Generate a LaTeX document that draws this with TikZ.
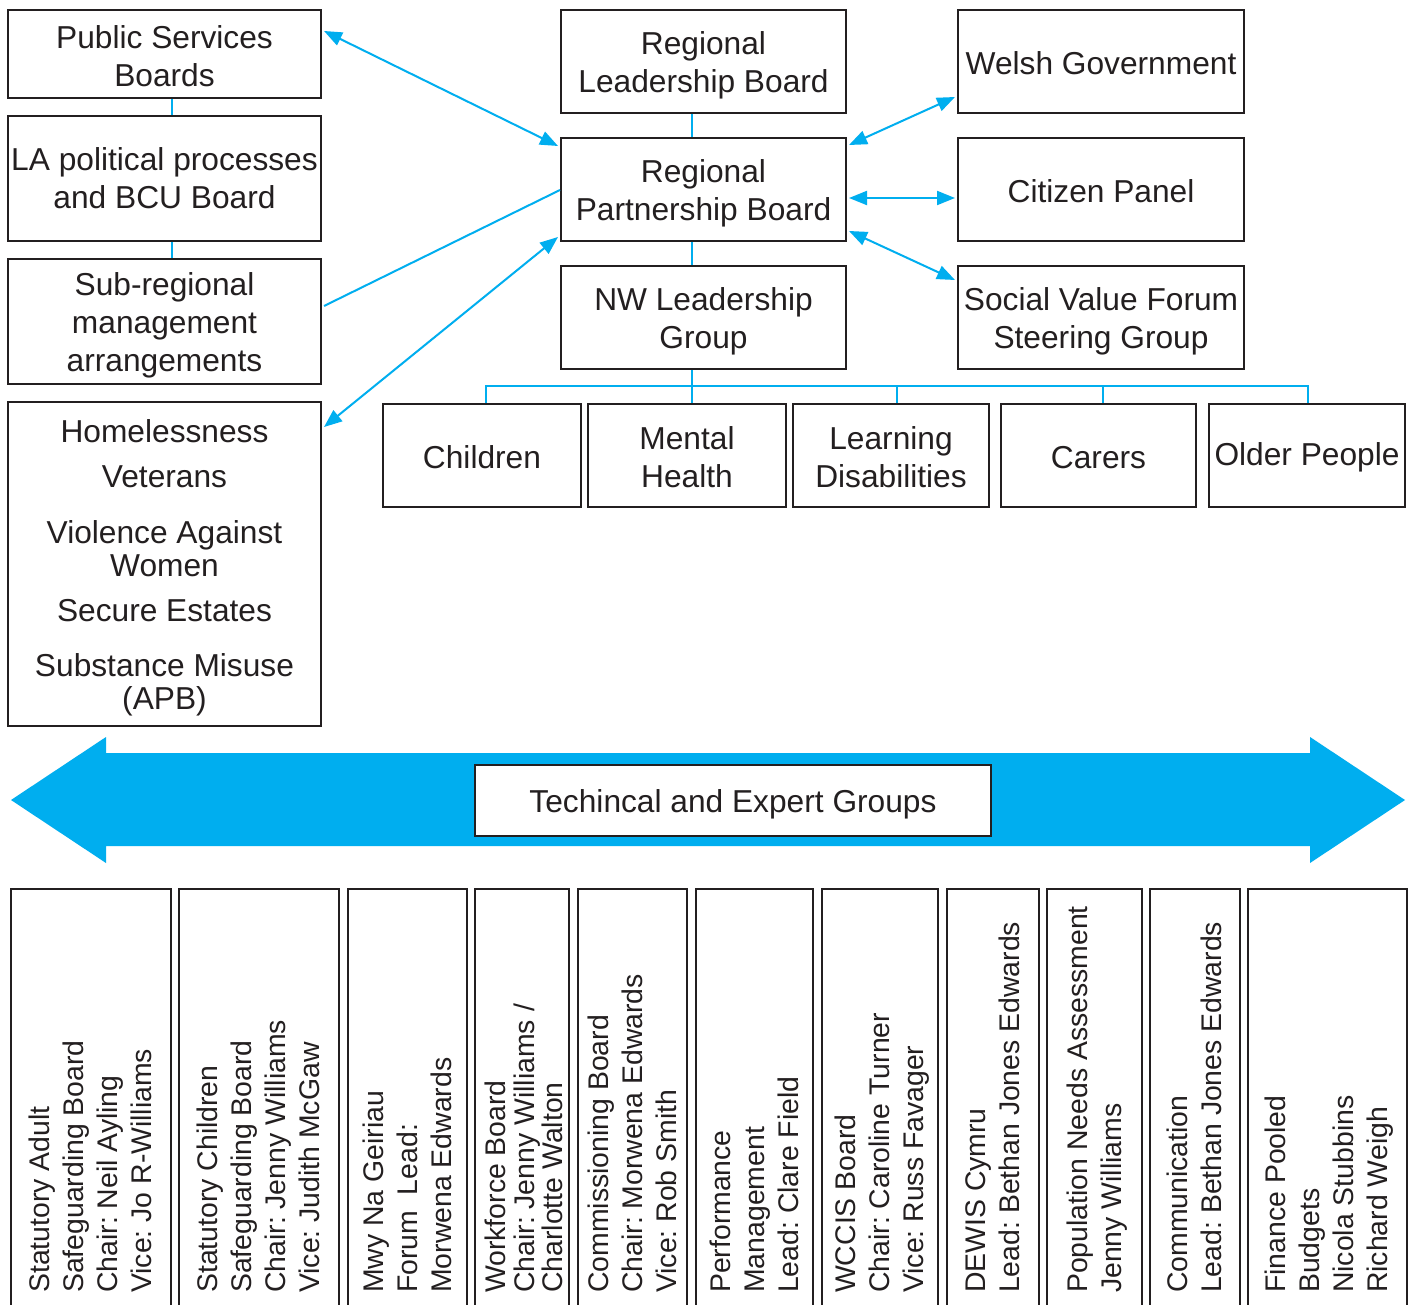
\documentclass[tikz,border=0pt]{standalone}
\usepackage{fontspec}
\setmainfont{Liberation Sans}
\usetikzlibrary{arrows.meta,calc}
\definecolor{ink}{HTML}{231F20}
\definecolor{cyanb}{HTML}{00AEEF}
\frenchspacing
\newcommand\firstup{\rule{0pt}{31pt}}
\newcommand\firstlow{\rule{0pt}{27pt}}
\begin{document}
\begin{tikzpicture}[x=1pt,y=-1pt,
 box/.style={draw=ink, line width=2pt, inner sep=0pt, align=center, text=ink, fill=white, font=\fontsize{31.7}{38}\selectfont\frenchspacing},
 oneline/.style={execute at begin node={\rule{0pt}{27pt}}},
 vbox/.style={draw=ink, line width=2pt, inner sep=0pt, minimum height=441pt},
 vtext/.style={rotate=90, anchor=north west, align=left, inner sep=0pt, text=ink, font=\fontsize{28.4}{34}\selectfont\frenchspacing},
 conn/.style={draw=cyanb, line width=2pt},
 biarr/.style={conn, {Triangle[length=18pt,width=14pt]}-{Triangle[length=18pt,width=14pt]}}
]
\useasboundingbox (0,0) rectangle (1412,1305);
\fill[white] (0,0) rectangle (1412,1305);
\clip (0,0) rectangle (1412,1305);

% left column
\node[box, minimum width=313pt, minimum height=88pt] (psb) at (164.5,54) {\firstlow Public Services\\Boards};
\node[box, minimum width=313pt, minimum height=125pt] (la) at (164.5,178.5) {LA political processes\\and BCU Board};
\node[box, minimum width=313pt, minimum height=125pt] (sub) at (164.5,321.5) {\firstup Sub-regional\\management\\arrangements};
\node[box, minimum width=313pt, minimum height=324pt, font=\fontsize{31.7}{33}\selectfont] (hl) at (164.5,564) {\firstup Homelessness\\[12pt]Veterans\\[23pt]Violence Against\\Women\\[12pt]Secure Estates\\[22pt]Substance Misuse\\(APB)};

% centre column
\node[box, minimum width=285pt, minimum height=103pt] (rlb) at (703.5,61.5) {\firstup Regional\\Leadership Board};
\node[box, minimum width=285pt, minimum height=103pt] (rpb) at (703.5,189.5) {\firstup Regional\\Partnership Board};
\node[box, minimum width=285pt, minimum height=103pt] (nw) at (703.5,317.5) {\firstup NW Leadership\\Group};

% right column
\node[box, oneline, minimum width=286pt, minimum height=103pt] (wg) at (1101,61.5) {Welsh Government};
\node[box, oneline, minimum width=286pt, minimum height=103pt] (cp) at (1101,189.5) {Citizen Panel};
\node[box, minimum width=286pt, minimum height=103pt] (svf) at (1101,317.5) {\firstup Social Value Forum\\Steering Group};

% workstream row
\node[box, oneline, minimum width=198pt, minimum height=103pt] (children) at (482,455.5) {Children};
\node[box, minimum width=198pt, minimum height=103pt] (mh) at (687,455.5) {\firstlow Mental\\Health};
\node[box, minimum width=196pt, minimum height=103pt] (ld) at (891,455.5) {\firstlow Learning\\Disabilities};
\node[box, oneline, minimum width=195pt, minimum height=103pt] (carers) at (1098.5,455.5) {Carers};
\node[box, oneline, minimum width=196pt, minimum height=103pt] (older) at (1307,455.5) {Older People};

% connectors
\draw[conn] ($(psb.south)+(7,0)$) -- ($(la.north)+(7,0)$);
\draw[conn] ($(la.south)+(7,0)$) -- ($(sub.north)+(7,0)$);
\draw[conn] ($(rlb.south)+(-12,0)$) -- ($(rpb.north)+(-12,0)$);
\draw[conn] ($(rpb.south)+(-12,0)$) -- ($(nw.north)+(-12,0)$);
\draw[conn] ($(nw.south)+(-12,0)$) -- ($(mh.north)+(4.5,0)$);
\coordinate (busL) at (486,386);
\coordinate (busR) at (1308,386);
\draw[conn] (busL |- children.north) -- (busL) -- (busR) -- (busR |- older.north);
\draw[conn] ($(ld.north)+(6,0)$) -- +(0,-18);
\draw[conn] ($(carers.north)+(4.5,0)$) -- +(0,-18);

\draw[biarr] ($(psb.north east)+(2,22)$) -- ($(rpb.north west)+(-2,9)$);
\draw[conn] ($(sub.east)+(2,-15.5)$) -- ($(rpb.west)+(0,0.5)$);
\draw[biarr] ($(hl.north east)+(2,26)$) -- ($(rpb.south west)+(-2,-5)$);
\draw[biarr] ($(rpb.north east)+(2,8)$) -- ($(wg.south west)+(-2,-17)$);
\draw[biarr] ($(rpb.east)+(2,8.5)$) -- ($(cp.west)+(-2,8.5)$);
\draw[biarr] ($(rpb.south east)+(2,-11)$) -- ($(svf.north west)+(-2,15)$);

% big double arrow
\fill[cyanb] (11,800) -- (106,737) -- (106,753) -- (1310,753) -- (1310,737) -- (1405,800)
  -- (1310,863) -- (1310,846) -- (106,846) -- (106,863) -- cycle;
\node[box, execute at begin node={\rule{0pt}{31pt}}, minimum width=516pt, minimum height=71pt] (tech) at (733,800.5) {Techincal and Expert Groups};

% bottom groups
\node[vbox, minimum width=160pt] (b1) at (91,1109.5) {};
\node[vbox, minimum width=160pt] (b2) at (259,1109.5) {};
\node[vbox, minimum width=119pt] (b3) at (407.5,1109.5) {};
\node[vbox, minimum width=94pt] (b4) at (522,1109.5) {};
\node[vbox, minimum width=109pt] (b5) at (632.5,1109.5) {};
\node[vbox, minimum width=117pt] (b6) at (754.5,1109.5) {};
\node[vbox, minimum width=116pt] (b7) at (880,1109.5) {};
\node[vbox, minimum width=92pt] (b8) at (993,1109.5) {};
\node[vbox, minimum width=95pt] (b9) at (1094.5,1109.5) {};
\node[vbox, minimum width=90pt] (b10) at (1195,1109.5) {};
\node[vbox, minimum width=159pt] (b11) at (1327.5,1109.5) {};

\node[vtext] (t1) at (29,1293) {Statutory Adult\\Safeguarding Board\\Chair: Neil Ayling\\Vice: Jo R-Williams};
\node[vtext] (t2) at (197,1293) {Statutory Children\\Safeguarding Board\\Chair: Jenny Williams\\Vice: Judith McGaw};
\node[vtext] (t3) at (363,1293) {Mwy Na Geiriau\\Forum\ \ Lead:\\Morwena Edwards};
\node[vtext, font=\fontsize{28.4}{28.5}\selectfont\frenchspacing] (t4) at (485,1293) {Workforce Board\\Chair: Jenny Williams /\\Charlotte Walton};
\node[vtext] (t5) at (588,1293) {Commissioning Board\\Chair: Morwena Edwards\\Vice: Rob Smith};
\node[vtext] (t6) at (710,1293) {Performance\\Management\\Lead: Clare Field};
\node[vtext] (t7) at (835,1293) {WCCIS Board\\Chair: Caroline Turner\\Vice: Russ Favager};
\node[vtext] (t8) at (965,1293) {DEWIS Cymru\\Lead: Bethan Jones Edwards};
\node[vtext] (t9) at (1067,1293) {Population Needs Assessment\\Jenny Williams};
\node[vtext] (t10) at (1167,1293) {Communication\\Lead: Bethan Jones Edwards};
\node[vtext] (t11) at (1265,1293) {Finance Pooled\\Budgets\\Nicola Stubbins\\Richard Weigh};
\end{tikzpicture}
\end{document}
